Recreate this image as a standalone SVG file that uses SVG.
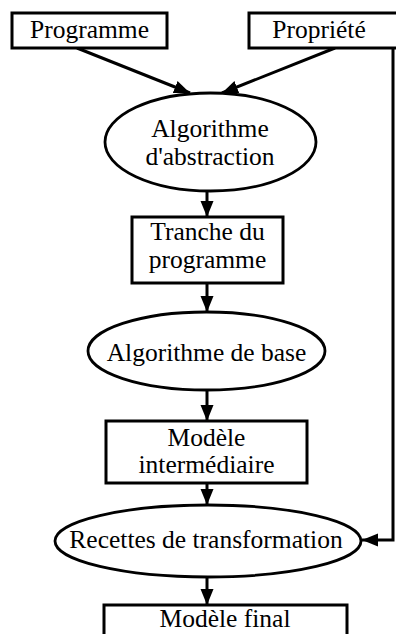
<svg xmlns="http://www.w3.org/2000/svg" width="396" height="634" viewBox="0 0 396 634">
<style>
.box{fill:#fff;stroke:#000;stroke-width:3}
.ell{fill:#fff;stroke:#000;stroke-width:2.8}
.t{font-family:"Liberation Serif","Times New Roman",serif;font-size:25.5px;fill:#000;text-anchor:middle}
.c{fill:none;stroke:#000;stroke-width:3}
</style>
<defs>
<marker id="ah" markerUnits="userSpaceOnUse" markerWidth="18" markerHeight="14" refX="16" refY="6.5" orient="auto">
<path d="M0,0 L16,6.5 L0,13 z" fill="#000"/>
</marker>
</defs>
<g id="connectors">
<line class="c" x1="77" y1="48" x2="190" y2="93" marker-end="url(#ah)"/>
<line class="c" x1="335" y1="48" x2="222" y2="93" marker-end="url(#ah)"/>
<line class="c" x1="207" y1="191" x2="207" y2="217" marker-end="url(#ah)"/>
<line class="c" x1="207" y1="283" x2="207" y2="312" marker-end="url(#ah)"/>
<line class="c" x1="207" y1="390" x2="207" y2="421" marker-end="url(#ah)"/>
<line class="c" x1="207" y1="483" x2="207" y2="505" marker-end="url(#ah)"/>
<line class="c" x1="207" y1="577" x2="207" y2="605" marker-end="url(#ah)"/>
<polyline class="c" points="393,48 393,540 362,540" marker-end="url(#ah)"/>
</g>
<g id="n-programme">
<rect class="box" x="12" y="13" width="155" height="35"/>
<text class="t" x="89.5" y="38">Programme</text>
</g>
<g id="n-propriete">
<rect class="box" x="249" y="13" width="150" height="35"/>
<text class="t" x="319" y="38">Propriété</text>
</g>
<g id="n-abstraction">
<ellipse class="ell" cx="210.5" cy="142" rx="105.5" ry="49"/>
<text class="t" x="210" y="137">Algorithme</text>
<text class="t" x="210" y="165">d'abstraction</text>
</g>
<g id="n-tranche">
<rect class="box" x="132" y="217" width="151" height="66"/>
<text class="t" x="207.5" y="240">Tranche du</text>
<text class="t" x="207.5" y="268">programme</text>
</g>
<g id="n-base">
<ellipse class="ell" cx="206.5" cy="351" rx="118.5" ry="39"/>
<text class="t" x="206.5" y="361">Algorithme de base</text>
</g>
<g id="n-intermediaire">
<rect class="box" x="106" y="421" width="201" height="62"/>
<text class="t" x="206.5" y="446">Modèle</text>
<text class="t" x="206.5" y="473">intermédiaire</text>
</g>
<g id="n-recettes">
<ellipse class="ell" cx="208" cy="541" rx="153" ry="36"/>
<text class="t" x="206" y="548">Recettes de transformation</text>
</g>
<g id="n-final">
<rect class="box" x="104" y="605" width="243" height="40"/>
<text class="t" x="225" y="627">Modèle final</text>
</g>
</svg>
